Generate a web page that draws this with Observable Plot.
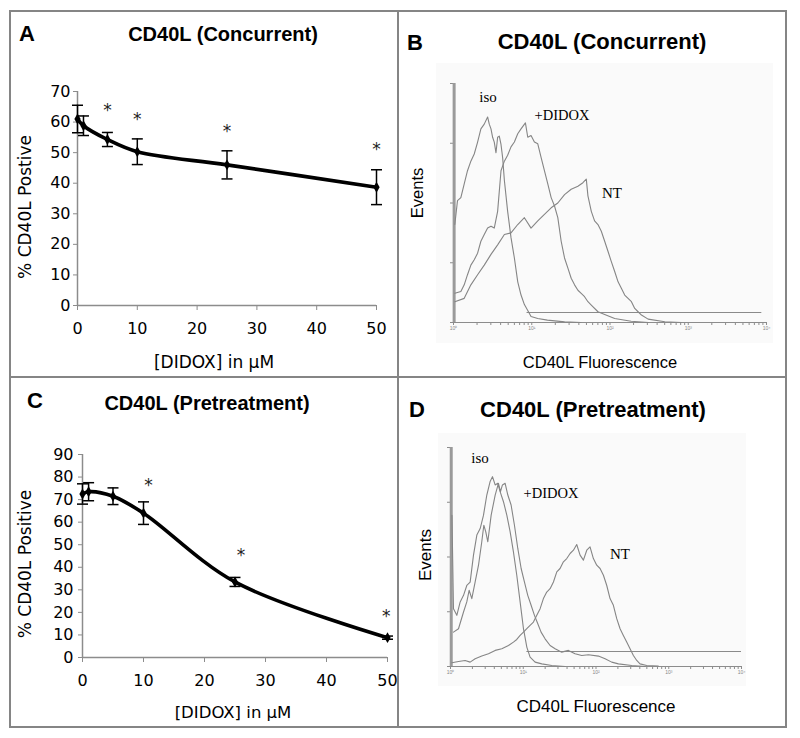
<!DOCTYPE html>
<html><head><meta charset="utf-8">
<script src="https://cdn.jsdelivr.net/npm/d3@7"></script>
<script src="https://cdn.jsdelivr.net/npm/@observablehq/plot@0.6"></script>
<style>
html,body{margin:0;padding:0;background:#fff;}
#fig{position:relative;width:800px;height:738px;background:#fff;overflow:hidden;}
#fig .panel{position:absolute;}
#fig svg g[aria-label*="axis"] line, #fig svg g[aria-label*="axis"] path{stroke:#8c8c8c;}
</style>
</head><body>
<div id="fig"></div>
<script>
// ---------- DATA ----------
// Panel A: CD40L (Concurrent)
const didoxA = [0, 1, 5, 10, 25, 50];
const meanA  = [61, 58.8, 54.3, 50.3, 46, 38.7];
const errA   = [4.5, 3.2, 2.3, 4.2, 4.6, 5.7];
const starXA = [5, 10, 25, 50];
const starYA = [65.4, 62.4, 58.6, 52.6];
const yTicksA = [0, 10, 20, 30, 40, 50, 60, 70];

// Panel C: CD40L (Pretreatment)
const didoxC = [0, 1, 5, 10, 25, 50];
const meanC  = [72.5, 73.5, 71.5, 64, 33.5, 8.8];
const errC   = [4.5, 4, 3.7, 5, 2, 0.7];
const starXC = [10.8, 26, 49.8];
const starYC = [78.6, 47.6, 20.4];
const yTicksC = [0, 10, 20, 30, 40, 50, 60, 70, 80, 90];

const xTicksAC = [0, 10, 20, 30, 40, 50];

// Histograms: [log10 fluorescence, events]
const isoB = [[0.017,82],[0.051,102],[0.094,104.5],[0.137,116],[0.179,127],[0.222,135],[0.265,141],[0.308,151],[0.35,162],[0.393,166],[0.436,172],[0.457,166],[0.479,162],[0.5,155],[0.521,151],[0.543,142],[0.564,155],[0.585,156],[0.607,149],[0.628,138],[0.65,119],[0.692,93],[0.735,71],[0.778,54],[0.821,34],[0.863,23],[0.906,15],[0.949,10],[0.991,5],[1.077,3.4],[1.2,2],[1.42,0.5],[1.63,0]];
const didoxB = [[0.017,24.4],[0.094,25.9],[0.137,31.5],[0.179,40],[0.222,48],[0.265,52.5],[0.308,58],[0.35,68],[0.393,73.6],[0.436,79],[0.479,80.6],[0.521,79],[0.564,93],[0.607,127],[0.65,135],[0.692,140],[0.735,147],[0.778,151],[0.821,158],[0.863,162],[0.919,167],[0.949,155],[0.991,156.5],[1.034,151],[1.077,149.5],[1.12,138],[1.162,127],[1.205,116],[1.248,104.5],[1.291,97.5],[1.333,87.7],[1.376,68],[1.419,54],[1.462,45.5],[1.504,37],[1.547,31.5],[1.59,27],[1.632,24.4],[1.675,21.6],[1.718,17.4],[1.761,14.6],[1.846,9],[1.932,6.7],[2.06,3.4],[2.27,1.1],[2.49,0]];
const ntB = [[0.017,17.4],[0.137,20.2],[0.222,31.5],[0.308,40],[0.393,48],[0.479,57],[0.564,65],[0.65,73.6],[0.735,75],[0.821,82],[0.906,87.7],[0.991,79],[1.077,85],[1.162,90.5],[1.248,96],[1.333,100],[1.419,107],[1.504,111.5],[1.59,114],[1.654,117],[1.697,120],[1.718,106],[1.761,93],[1.803,85],[1.846,82],[1.889,76.4],[1.932,68],[1.974,59.6],[2.017,51],[2.06,42.7],[2.103,34],[2.145,28.7],[2.188,23],[2.231,20.2],[2.274,17.4],[2.316,11.8],[2.359,9],[2.402,6.2],[2.487,2.8],[2.7,0.6],[2.91,0]];
const gateB = [{x1: 0.94, x2: 3.94, y: 8.4}];
const spikeB = [{x: 0.008, top: 200}];

const isoD = [[0.02,138],[0.041,52.8],[0.087,46.7],[0.133,59],[0.179,65],[0.224,74],[0.27,77],[0.316,101.7],[0.362,120],[0.408,126],[0.453,138],[0.499,156.6],[0.545,169],[0.577,173.4],[0.614,165.8],[0.65,167.3],[0.682,159.7],[0.728,150.5],[0.774,138.3],[0.82,123],[0.865,104.7],[0.911,83.3],[0.957,59],[1.003,34.5],[1.049,17.7],[1.094,8.5],[1.163,4],[1.255,2.4],[1.392,0.9],[1.575,0]];
const didoxD = [[0.041,31.4],[0.11,34.5],[0.179,49.8],[0.224,59],[0.256,69.6],[0.293,62],[0.339,77.2],[0.385,92.5],[0.43,113.9],[0.458,129],[0.485,123],[0.513,113.9],[0.559,138.3],[0.614,156.6],[0.659,167.3],[0.687,159.7],[0.714,165.8],[0.751,167.3],[0.788,156.6],[0.833,147.5],[0.879,129],[0.925,107.8],[0.971,89.5],[1.016,77.2],[1.062,65],[1.108,55.9],[1.154,46.7],[1.2,39],[1.245,31.4],[1.3,25.3],[1.369,19.2],[1.438,16.2],[1.529,13.1],[1.621,14.7],[1.712,11.6],[1.804,10],[1.896,10.7],[2.033,9.5],[2.125,7],[2.216,4],[2.308,2.4],[2.491,0.9],[2.674,0]];
const ntD = [[0.018,3.4],[0.11,4.6],[0.201,5.5],[0.27,4],[0.339,7],[0.43,9.5],[0.522,11.6],[0.614,14.7],[0.705,16.2],[0.797,19.2],[0.865,22.3],[0.911,24.7],[0.957,28.4],[1.003,31.4],[1.049,34.5],[1.094,37.5],[1.14,40.6],[1.186,46.7],[1.232,52.8],[1.277,62],[1.323,68],[1.369,71.1],[1.415,77.2],[1.461,86.4],[1.506,89.5],[1.552,95.6],[1.598,98.6],[1.644,103.2],[1.69,106.2],[1.735,111.4],[1.781,101.7],[1.827,97.1],[1.873,106.2],[1.918,109.3],[1.964,98.6],[2.01,92.5],[2.056,89.5],[2.102,83.3],[2.147,74.2],[2.193,62],[2.239,55.9],[2.285,43.7],[2.331,34.5],[2.376,28.4],[2.422,22.3],[2.468,16.2],[2.514,10],[2.56,5.5],[2.605,2.4],[2.697,0.9],[2.857,0.3]];
const gateD = [{x1: 1.05, x2: 4.0, y: 13.7}];
const spikeD = [{x: 0.01, top: 200}];

const histMajor = [0, 1, 2, 3, 4];
const histMajorLabels = ["10\u2070", "10\u00b9", "10\u00b2", "10\u00b3", "10\u2074"];
const histYTicks = [0, 50, 100, 150, 200];

// ---------- HELPERS ----------
const fig = document.getElementById("fig");
const SANS = "'Liberation Sans', Arial, sans-serif";
const VERD = "'DejaVu Sans', Verdana, sans-serif";
const SERIF = "'Liberation Serif', 'Times New Roman', serif";

function box(left, top, w, h, css) {
  const el = document.createElement("div");
  Object.assign(el.style, {position: "absolute", left: left + "px", top: top + "px", width: w + "px", height: h + "px"}, css);
  fig.appendChild(el);
}
function label(txt, x, y, o = {}) {
  const el = document.createElement("div");
  el.textContent = txt;
  Object.assign(el.style, {
    position: "absolute", left: x + "px", top: y + "px",
    transform: "translate(-50%,-50%)" + (o.rotate ? " rotate(-90deg)" : ""),
    whiteSpace: "nowrap", fontFamily: o.family || SANS, fontSize: (o.size || 16) + "px",
    fontWeight: o.weight || "normal", lineHeight: "1", color: "#000"
  });
  fig.appendChild(el);
}
function place(svg, left, top) {
  const wrap = document.createElement("div");
  wrap.className = "panel";
  wrap.style.left = left + "px";
  wrap.style.top = top + "px";
  wrap.appendChild(svg);
  fig.appendChild(wrap);
}
const capSymbol = {draw(ctx, size) { const w = Math.sqrt(size / Math.PI); ctx.moveTo(-w, 0); ctx.lineTo(w, 0); }};

function rows(xs, ms, es) {
  return xs.map((x, i) => ({x, m: ms[i], lo: ms[i] - es[i], hi: ms[i] + es[i]}));
}

function doseChart(data, stars, yMax, yTicks, dims) {
  return Plot.plot({
    width: dims.w, height: dims.h,
    marginLeft: dims.ml, marginRight: dims.mr, marginTop: dims.mt, marginBottom: dims.mb,
    style: {background: "transparent", overflow: "visible", fontFamily: VERD, fontSize: "16px", color: "#000"},
    x: {domain: [0, 50], ticks: xTicksAC, label: null, tickSize: 5, tickPadding: dims.xpad},
    y: {domain: [0, yMax], ticks: yTicks, label: null, tickSize: 4, tickPadding: dims.ypad},
    marks: [
      Plot.ruleX([0], {stroke: "#8c8c8c", strokeWidth: 1.5}),
      Plot.ruleY([0], {stroke: "#8c8c8c", strokeWidth: 1.5}),
      Plot.ruleX(data, {x: "x", y1: "lo", y2: "hi", stroke: "#000", strokeWidth: 1.5}),
      Plot.dot(data, {x: "x", y: "lo", symbol: capSymbol, r: 5.5, stroke: "#000", fill: "none", strokeWidth: 1.5}),
      Plot.dot(data, {x: "x", y: "hi", symbol: capSymbol, r: 5.5, stroke: "#000", fill: "none", strokeWidth: 1.5}),
      Plot.line(data, {x: "x", y: "m", curve: "catmull-rom", stroke: "#000", strokeWidth: 3.6}),
      Plot.dot(data, {x: "x", y: "m", symbol: "diamond", r: 3.3, fill: "#000"}),
      Plot.text(stars, {x: "x", y: "y", text: () => "*", fontSize: 17, dy: 5, fill: "#222"})
    ]
  });
}

function histChart(curves, gate, spike, dims) {
  const minor = [];
  for (let k = 0; k < 4; k++) for (let m = 2; m < 10; m++) minor.push(k + Math.log10(m));
  const ticks = histMajor.concat(minor);
  return Plot.plot({
    width: dims.w, height: dims.h,
    marginLeft: dims.ml, marginRight: dims.mr, marginTop: dims.mt, marginBottom: dims.mb,
    style: {background: "transparent", overflow: "visible", fontFamily: SANS, fontSize: "5px", color: "#888"},
    x: {domain: [0, 4], ticks, tickFormat: d => { const i = histMajor.indexOf(d); return i >= 0 ? histMajorLabels[i] : ""; }, label: null, tickSize: 3, tickPadding: 1},
    y: {domain: [0, 200], ticks: histYTicks, tickFormat: () => "", label: null, tickSize: 3},
    marks: [
      Plot.ruleY([0], {stroke: "#8c8c8c", strokeWidth: 1}),
      Plot.ruleX([0], {stroke: "#8c8c8c", strokeWidth: 1}),
      Plot.ruleX(spike, {x: "x", y1: 0, y2: "top", stroke: "#9a9a9a", strokeWidth: 3}),
      Plot.ruleY(gate, {x1: "x1", x2: "x2", y: "y", stroke: "#8a8a8a", strokeWidth: 1.1}),
      ...curves.map(c => Plot.line(c, {x: d => d[0], y: d => d[1], stroke: "#858585", strokeWidth: 1.1}))
    ]
  });
}

// ---------- FRAME ----------
box(9, 10, 778, 718, {border: "2px solid #858585", boxSizing: "border-box"});
box(397, 10, 2, 718, {background: "#858585"});
box(9, 376, 778, 2, {background: "#858585"});
// faint scanned-image backgrounds behind the histograms
box(436, 63, 337, 280, {background: "#fafafa"});
box(438, 433, 308, 253, {background: "#fafafa"});

// ---------- PANEL A ----------
place(doseChart(rows(didoxA, meanA, errA), starXA.map((x, i) => ({x, y: starYA[i]})), 70, yTicksA,
  {w: 387, h: 365, ml: 67, mr: 21, mt: 80, mb: 71, xpad: 12, ypad: 3}), 10, 11);
label("A", 27, 34, {size: 22, weight: "bold"});
label("CD40L (Concurrent)", 223, 34, {size: 20, weight: "bold"});
label("% CD40L Postive", 25, 207, {size: 17, family: VERD, rotate: true});
label("[DIDOX] in \u00b5M", 214, 362, {size: 17, family: VERD});

// ---------- PANEL C ----------
place(doseChart(rows(didoxC, meanC, errC), starXC.map((x, i) => ({x, y: starYC[i]})), 90, yTicksC,
  {w: 387, h: 349, ml: 72, mr: 10, mt: 76, mb: 70, xpad: 12, ypad: 5}), 10, 378);
label("C", 35, 401, {size: 22, weight: "bold"});
label("CD40L (Pretreatment)", 207, 403, {size: 20, weight: "bold"});
label("% CD40L Positive", 25, 564, {size: 17, family: VERD, rotate: true});
label("[DIDOX] in \u00b5M", 233, 713, {size: 16.5, family: VERD});

// ---------- PANEL B ----------
place(histChart([isoB, didoxB, ntB], gateB, spikeB,
  {w: 387, h: 365, ml: 54, mr: 20, mt: 72, mb: 54}), 399, 11);
label("B", 415, 43, {size: 22, weight: "bold"});
label("CD40L (Concurrent)", 602, 42, {size: 22, weight: "bold"});
label("Events", 417, 193, {size: 16.5, rotate: true});
label("CD40L Fluorescence", 600, 362, {size: 16.5});
label("iso", 488, 97, {size: 15, family: SERIF});
label("+DIDOX", 562, 115, {size: 14.5, family: SERIF});
label("NT", 612, 193, {size: 15, family: SERIF});

// ---------- PANEL D ----------
place(histChart([isoD, didoxD, ntD], gateD, spikeD,
  {w: 387, h: 349, ml: 51, mr: 45, mt: 69, mb: 61}), 399, 378);
label("D", 417, 410, {size: 22, weight: "bold"});
label("CD40L (Pretreatment)", 593, 410, {size: 22, weight: "bold"});
label("Events", 425, 555, {size: 17, rotate: true});
label("CD40L Fluorescence", 596, 706, {size: 17});
label("iso", 480, 458, {size: 15, family: SERIF});
label("+DIDOX", 551, 493, {size: 14.5, family: SERIF});
label("NT", 620, 554, {size: 15, family: SERIF});
</script>
</body></html>
